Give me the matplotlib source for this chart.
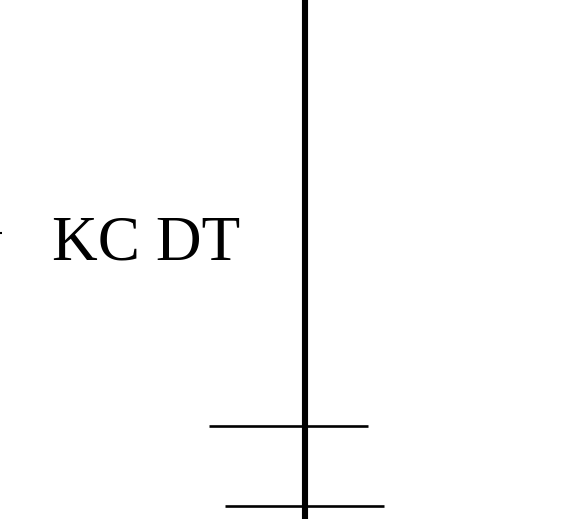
import matplotlib.pyplot as plt

# segment data (pixel-like coordinates of the cropped diagram)
stem_x = [305, 305]
stem_y = [0, 519]
branch_y = [426, 506]
branch_x0 = [209, 225]
branch_x1 = [368, 384]
stub_x = [0, 2]
stub_y = [233, 233]
label_text = "KC DT"
label_x = 52
label_y = 260

fig = plt.figure(figsize=(5.83, 5.19), dpi=100)
ax = fig.add_axes([0, 0, 1, 1])
ax.set_xlim(0, 583)
ax.set_ylim(519, 0)
ax.axis('off')

ax.plot(stem_x, stem_y, color='black', lw=4.4, solid_capstyle='butt')
for y, x0, x1 in zip(branch_y, branch_x0, branch_x1):
    ax.plot([x0, x1], [y, y], color='black', lw=1.9, solid_capstyle='butt')
ax.plot(stub_x, stub_y, color='black', lw=1.5, solid_capstyle='butt')

ax.text(label_x, label_y, label_text, fontsize=45.5, family='Liberation Serif',
        ha='left', va='baseline', color='black')

fig.savefig('out.png', dpi=100)
